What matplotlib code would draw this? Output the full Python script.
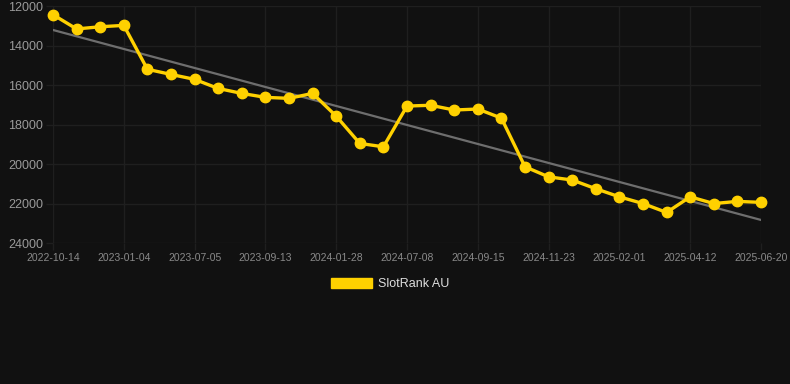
import matplotlib
matplotlib.use("Agg")
import matplotlib.pyplot as plt
from matplotlib.patches import Patch
import numpy as np

# rank values (lower on screen = worse rank)
ranks = [12440, 13160, 13050, 12980, 15200, 15460, 15710, 16170, 16420, 16620,
         16670, 16420, 17570, 18950, 19120, 17060, 17020, 17260, 17210, 17670,
         20130, 20640, 20800, 21240, 21650, 21990, 22440, 21650, 21990, 21880,
         21930]
tick_dates = ["2022-10-14", "2023-01-04", "2023-07-05", "2023-09-13", "2024-01-28",
              "2024-07-08", "2024-09-15", "2024-11-23", "2025-02-01", "2025-04-12",
              "2025-06-20"]
y_ticks = [12000, 14000, 16000, 18000, 20000, 22000, 24000]

bg = "#111111"
grid_col = "#1f1f1f"
gold = "#ffd100"

plt.rcParams['font.family'] = ['Liberation Sans', 'DejaVu Sans']

fig = plt.figure(figsize=(7.9, 3.84), dpi=100, facecolor=bg)
ax = fig.add_axes([53 / 790, 1 - 243.3 / 384, (761 - 53) / 790, (243.3 - 6) / 384])
ax.set_facecolor(bg)

x = np.arange(len(ranks))

# trend line (least squares)
k, b = np.polyfit(x, ranks, 1)
ax.plot(x, k * x + b, color="#6e6e6e", lw=1.6, zorder=2)

ax.plot(x, ranks, color=gold, lw=2.4, marker="o", markersize=7.5,
        markerfacecolor=gold, markeredgecolor=gold, zorder=3, clip_on=False)

ax.set_xlim(0, len(ranks) - 1)
ax.set_ylim(24000, 12000)
ax.set_xticks(x[::3])
ax.set_xticklabels(tick_dates)
ax.set_yticks(y_ticks)
ax.set_yticklabels([str(v) for v in y_ticks])

ax.grid(True, color=grid_col, lw=1)
for s in ax.spines.values():
    s.set_visible(False)
ax.tick_params(axis="both", color=grid_col, length=5, width=1)
ax.tick_params(axis="x", labelsize=7.5, labelcolor="#8a8a8a", pad=2)
ax.tick_params(axis="y", labelsize=9, labelcolor="#9a9a9a", pad=2)

leg = ax.legend(handles=[Patch(facecolor=gold, edgecolor=gold, label="SlotRank AU")],
                loc="center", bbox_to_anchor=(390 / 790, 1 - 284 / 384),
                bbox_transform=fig.transFigure, frameon=False, fontsize=9,
                handlelength=3.3, handleheight=0.9, handletextpad=0.5)
for t in leg.get_texts():
    t.set_color("#dddddd")

fig.savefig("out.png", dpi=100, facecolor=bg)
